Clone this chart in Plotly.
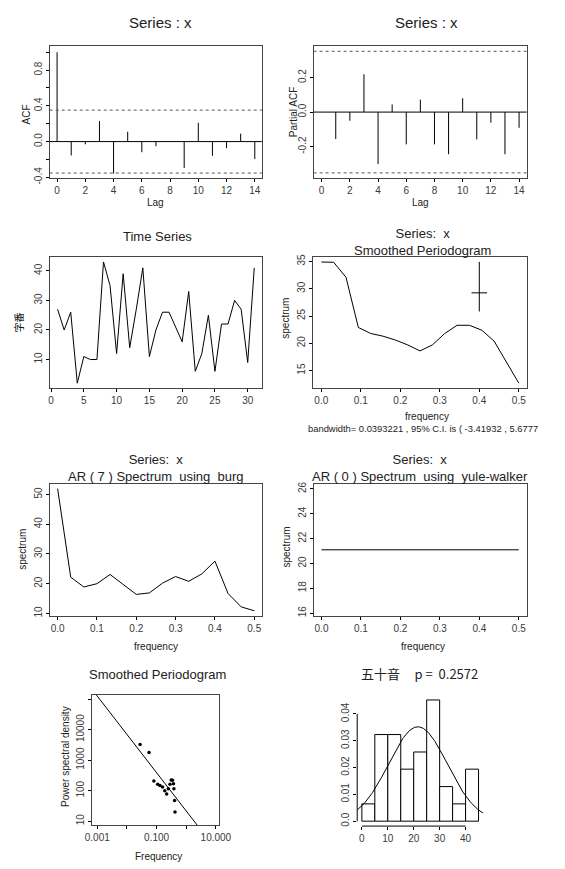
import numpy as np
import plotly.graph_objects as go

# The page body has an 8px margin, so screen pixel (px, py) maps to figure pixel (px-8, py-8).
OFF = 8
W, H = 557, 861
FONT = "Liberation Sans, Arial, sans-serif"
CJK = "Noto Sans CJK JP, Liberation Sans, sans-serif"

# ---------------- data ----------------
acf_lags = [0, 1, 2, 3, 4, 5, 6, 7, 8, 9, 10, 11, 12, 13, 14]
acf_vals = [1.0, -0.155, -0.03, 0.23, -0.357, 0.11, -0.119, -0.052, -0.005,
            -0.296, 0.21, -0.159, -0.074, 0.089, -0.196]
acf_ci = 0.352

pacf_lags = [1, 2, 3, 4, 5, 6, 7, 8, 9, 10, 11, 12, 13, 14]
pacf_vals = [-0.156, -0.05, 0.219, -0.301, 0.044, -0.187, 0.072, -0.187,
             -0.244, 0.08, -0.158, -0.061, -0.244, -0.091]
pacf_ci = 0.352

ts_time = list(range(1, 32))
ts_vals = [27, 20, 26, 2, 11, 10, 10, 43, 35, 12, 39, 14, 27, 41, 11, 20,
           26, 26, 21, 16, 33, 6, 12, 25, 6, 22, 22, 30, 27, 9, 41]

sp_freq = [0.0, 0.03125, 0.0625, 0.09375, 0.125, 0.15625, 0.1875, 0.21875,
           0.25, 0.28125, 0.3125, 0.34375, 0.375, 0.40625, 0.4375, 0.46875, 0.5]
sp_vals = [34.9, 34.85, 32.1, 22.9, 21.8, 21.3, 20.6, 19.7, 18.6, 19.7,
           21.8, 23.3, 23.3, 22.4, 20.4, 16.5, 12.7]
sp_bandwidth = 0.0393221
sp_ci_lo, sp_ci_hi = -3.41932, 5.6777
sp_ci_center = (0.4, 29.25)

ar7_freq = [0.0, 0.0333, 0.0667, 0.1, 0.1333, 0.1667, 0.2, 0.2333, 0.2667,
            0.3, 0.3333, 0.3667, 0.4, 0.4333, 0.4667, 0.5]
ar7_vals = [52.0, 22.2, 18.9, 20.0, 23.1, 19.6, 16.4, 16.9, 20.2, 22.4,
            20.8, 23.3, 27.6, 16.7, 12.2, 10.9]

ar0_freq = [0.0, 0.5]
ar0_vals = [21.1, 21.1]

ll_freq = [0.0278, 0.0557, 0.0811, 0.109, 0.130, 0.159, 0.189, 0.219, 0.249,
           0.283, 0.312, 0.344, 0.371, 0.385, 0.405, 0.418]
ll_psd = [3243, 1782, 209, 163, 147, 131, 99, 77, 115, 163, 225, 220, 167,
          115, 48, 20]
ll_intercept, ll_slope = 1.334, -1.2553   # log10 fit line

hist_breaks = [0, 5, 10, 15, 20, 25, 30, 35, 40, 45]
hist_density = [0.00645, 0.0323, 0.0323, 0.0194, 0.0258, 0.0452, 0.0129,
                0.00645, 0.0194]
hist_title = "五十音\u00a0\u00a0\u00a0\u00a0\u00a0p\u00a0=\u00a0\u00a00.2572"

# ---------------- layout helpers ----------------
def fx(px):
    return (px - OFF) / W

def fy(py):
    return 1 - (py - OFF) / H

def dom(x0, x1, top, bottom):
    return [fx(x0), fx(x1)], [fy(bottom), fy(top)]

TICKFONT = dict(family=FONT, size=10, color="#3a3a3a")

def axis(dom_, rng, anchor, boxed=True, **kw):
    d = dict(domain=dom_, range=rng, anchor=anchor, showgrid=False,
             zeroline=False, ticks="outside", ticklen=3, tickwidth=1,
             tickcolor="black", tickfont=TICKFONT,
             showline=boxed, mirror=boxed, linecolor="#444", linewidth=1.2)
    d.update(kw)
    return d

fig = go.Figure()
LINE = dict(color="black", width=1)

panels = {
    1: dom(43, 263, 43.3, 177),
    2: dom(316.7, 537.7, 43.3, 177),
    3: dom(43, 263.3, 256.7, 389),
    4: dom(316.5, 537.7, 256.7, 389),
    5: dom(43, 263.3, 485.7, 619),
    6: dom(316.7, 537.7, 486, 619),
    7: dom(87.3, 219, 699, 831),
    8: dom(361.9, 492.6, 698, 831.7),
}

def xy(i):
    return ("x" if i == 1 else f"x{i}"), ("y" if i == 1 else f"y{i}")

lay = {}
def set_axes(i, xkw, ykw):
    xd, yd = panels[i]
    xn = "xaxis" if i == 1 else f"xaxis{i}"
    yn = "yaxis" if i == 1 else f"yaxis{i}"
    xa, ya = xy(i)
    lay[xn] = axis(xd, xkw.pop("range"), ya, **xkw)
    lay[yn] = axis(yd, ykw.pop("range"), xa, tickangle=-90, **ykw)

shapes = []
annots = []

def ann(text, px, py, size=10, angle=0, xanchor="center", color="#222", family=FONT):
    annots.append(dict(text=text, x=fx(px), y=fy(py), xref="paper",
                       yref="paper", showarrow=False, textangle=angle,
                       xanchor=xanchor, yanchor="middle",
                       font=dict(family=family, size=size, color=color)))

def hline(i, yval, dash="solid", color="black"):
    xa, ya = xy(i)
    shapes.append(dict(type="line", xref=f"{xa} domain", yref=ya, x0=0, x1=1,
                       y0=yval, y1=yval, line=dict(color=color, width=1, dash=dash)))

def stems(lags, vals):
    xs, ys = [], []
    for l, v in zip(lags, vals):
        xs += [l, l, None]
        ys += [0, v, None]
    return xs, ys

FREQ_TICKS = dict(tickvals=[0, 0.1, 0.2, 0.3, 0.4, 0.5],
                  ticktext=["0.0", "0.1", "0.2", "0.3", "0.4", "0.5"])

# ---- Panel 1: ACF
xs, ys = stems(acf_lags, acf_vals)
fig.add_trace(go.Scatter(x=xs, y=ys, mode="lines", line=LINE, xaxis="x", yaxis="y"))
hline(1, 0)
hline(1, acf_ci, "dot", "#555")
hline(1, -acf_ci, "dot", "#555")
set_axes(1, dict(range=[-0.52, 14.5], tickvals=list(range(0, 15, 2))),
         dict(range=[-0.41, 1.07], tickvals=[-0.4, -0.2, 0, 0.2, 0.4, 0.6, 0.8, 1.0],
              ticktext=["-0.4", "", "0.0", "", "0.4", "", "0.8", ""]))
ann("Series : x", 158, 20, 15)
ann("ACF", 19, 113, 10, -90)
ann("Lag", 153, 201.7, 10)

# ---- Panel 2: PACF
xs, ys = stems(pacf_lags, pacf_vals)
fig.add_trace(go.Scatter(x=xs, y=ys, mode="lines", line=LINE, xaxis="x2", yaxis="y2"))
hline(2, 0)
hline(2, pacf_ci, "dot", "#555")
hline(2, -pacf_ci, "dot", "#555")
set_axes(2, dict(range=[-0.57, 14.54], tickvals=list(range(0, 15, 2))),
         dict(range=[-0.383, 0.383], tickvals=[-0.2, 0.0, 0.2],
              ticktext=["-0.2", "0.0", "0.2"]))
ann("Series : x", 434, 20, 15)
ann("Partial ACF", 296.7, 110, 10, -90)
ann("Lag", 428, 201.7, 10)

# ---- Panel 3: time series
fig.add_trace(go.Scatter(x=ts_time, y=ts_vals, mode="lines", line=LINE, xaxis="x3", yaxis="y3"))
set_axes(3, dict(range=[-0.2, 32.2], tickvals=[0, 5, 10, 15, 20, 25, 30]),
         dict(range=[0.36, 44.64], tickvals=[10, 20, 30, 40]))
ann("Time Series", 155, 235.7, 13)
ann("字番", 11, 323, 10, -90, family=CJK, color="#111")

# ---- Panel 4: smoothed periodogram
fig.add_trace(go.Scatter(x=sp_freq, y=sp_vals, mode="lines", line=LINE, xaxis="x4", yaxis="y4"))
cx, cy = sp_ci_center
fig.add_trace(go.Scatter(x=[cx, cx, None, cx - sp_bandwidth / 2, cx + sp_bandwidth / 2],
                         y=[cy + sp_ci_lo, cy + sp_ci_hi, None, cy, cy],
                         mode="lines", line=LINE, xaxis="x4", yaxis="y4"))
set_axes(4, dict(range=[-0.02, 0.52], **FREQ_TICKS),
         dict(range=[11.8, 35.8], tickvals=[15, 20, 25, 30, 35]))
ann("Series:\u00a0\u00a0x<br>Smoothed Periodogram", 430, 241, 13)
ann("spectrum", 288, 318, 10, -90)
ann("frequency", 434, 418, 10)
ann("bandwidth=\u00a00.0393221\u00a0,\u00a095%\u00a0C.I.\u00a0is\u00a0(\u00a0-3.41932\u00a0,\u00a05.6777",
    309, 430, 9.4, 0, "left")

# ---- Panel 5: AR(7)
fig.add_trace(go.Scatter(x=ar7_freq, y=ar7_vals, mode="lines", line=LINE, xaxis="x5", yaxis="y5"))
set_axes(5, dict(range=[-0.02, 0.52], **FREQ_TICKS),
         dict(range=[9.26, 53.64], tickvals=[10, 20, 30, 40, 50]))
ann("Series:\u00a0\u00a0x<br>AR\u00a0(\u00a07\u00a0)\u00a0Spectrum\u00a0\u00a0using\u00a0\u00a0burg",
    153, 470, 13)
ann("spectrum", 14, 551.7, 10, -90)
ann("frequency", 153, 650, 10)

# ---- Panel 6: AR(0)
fig.add_trace(go.Scatter(x=ar0_freq, y=ar0_vals, mode="lines", line=LINE, xaxis="x6", yaxis="y6"))
set_axes(6, dict(range=[-0.02, 0.52], **FREQ_TICKS),
         dict(range=[15.8, 26.4], tickvals=[16, 18, 20, 22, 24, 26]))
ann("Series:\u00a0\u00a0x<br>AR\u00a0(\u00a00\u00a0)\u00a0Spectrum\u00a0\u00a0using\u00a0\u00a0yule-walker",
    426.7, 470, 13)
ann("spectrum", 288.3, 550, 10, -90)
ann("frequency", 430, 650, 10)

# ---- Panel 7: log-log smoothed periodogram
fig.add_trace(go.Scatter(x=ll_freq, y=ll_psd, mode="markers",
                         marker=dict(color="black", size=3.5), xaxis="x7", yaxis="y7"))
lx = np.array([-3.4, 1.3])
fig.add_trace(go.Scatter(x=10 ** lx, y=10 ** (ll_intercept + ll_slope * lx), mode="lines",
                         line=LINE, xaxis="x7", yaxis="y7"))
set_axes(7, dict(range=[-3.163, 1.12], type="log", tickvals=[0.001, 0.01, 0.1, 1, 10],
                 ticktext=["0.001", "", "0.100", "", "10.000"]),
         dict(range=[0.861, 5.143], type="log", tickvals=[10, 100, 1000, 10000, 100000],
              ticktext=["10", "100", "1000", "10000", ""]))
ann("Smoothed Periodogram", 155, 678.3, 13)
ann("Power\u00a0spectral\u00a0density", 60, 761.7, 10, -90)
ann("Frequency", 155.7, 862, 10)

# ---- Panel 8: histogram with normal curve
mids = [(a + b) / 2 for a, b in zip(hist_breaks[:-1], hist_breaks[1:])]
widths = [b - a for a, b in zip(hist_breaks[:-1], hist_breaks[1:])]
fig.add_trace(go.Bar(x=mids, y=hist_density, width=widths,
                     marker=dict(color="white", line=dict(color="black", width=1)),
                     xaxis="x8", yaxis="y8"))
mu, sd = float(np.mean(ts_vals)), float(np.std(ts_vals, ddof=1))
gx = np.linspace(-1.8, 46.8, 200)
gy = np.exp(-0.5 * ((gx - mu) / sd) ** 2) / (sd * np.sqrt(2 * np.pi))
fig.add_trace(go.Scatter(x=gx, y=gy, mode="lines", line=LINE, xaxis="x8", yaxis="y8"))
set_axes(8, dict(range=[-1.8, 46.8], tickvals=[0, 10, 20, 30, 40], boxed=False),
         dict(range=[-0.00183, 0.0475], tickvals=[0, 0.01, 0.02, 0.03, 0.04],
              ticktext=["0.0", "0.01", "0.02", "0.03", "0.04"], boxed=False))
shapes.append(dict(type="line", xref="x8", yref="y8 domain", x0=0, x1=40, y0=0, y1=0,
                   line=dict(color="black", width=1)))
shapes.append(dict(type="line", xref="x8 domain", yref="y8", x0=0, x1=0, y0=0, y1=0.04,
                   line=dict(color="black", width=1)))
ann(hist_title, 426.7, 677.3, 13, family=CJK)

fig.update_layout(width=W, height=H, margin=dict(l=0, r=0, t=0, b=0),
                  paper_bgcolor="white", plot_bgcolor="white", showlegend=False,
                  shapes=shapes, annotations=annots,
                  font=dict(family=FONT, color="#222"), **lay)
fig.write_html("out.html")
